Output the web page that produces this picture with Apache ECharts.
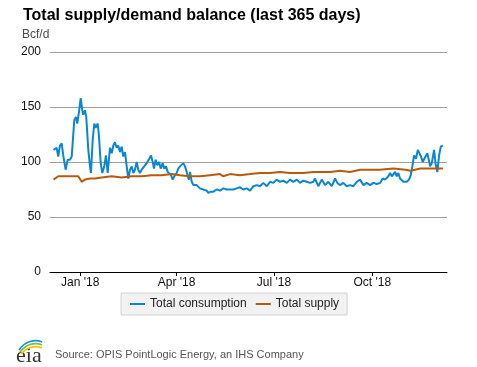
<!DOCTYPE html>
<html>
<head>
<meta charset="utf-8">
<script src="https://cdn.jsdelivr.net/npm/echarts@6/dist/echarts.min.js"></script>
<style>
html,body{margin:0;padding:0;background:#fff;}
#c{width:477px;height:367px;}
</style>
</head>
<body>
<div id="c"></div>
<script>
// Day offsets are days relative to 1 Jan 2018
var consDays = [-25,-22.1,-20.6,-19,-17.4,-15.9,-13.7,-11.8,-9.6,-8,-5.6,-4,-2.8,-1,0.4,1.9,2.8,4.4,5.6,7.5,9.1,10,11.6,13.1,14.4,16.3,17.5,19.1,20.6,22.4,24,25.6,27.8,29.4,30.9,32.4,34,35.5,37.1,38.7,40.2,41.8,43.4,44.9,46.5,48.1,49.6,51.1,52.7,54.2,55.8,57.4,58.9,62.1,64.5,66.1,67.7,68.9,70.5,72,73.6,75.2,77,78.5,80.1,81.7,83.2,84.8,86.4,87.9,90.1,91.6,93.2,94.8,96.3,97.9,99.5,100.4,101.6,102.6,104.2,105.7,108.8,111.9,115,118.2,119.7,121.9,124.4,127.5,130.6,133.7,136.9,140,143.1,146.2,149.3,152.4,155.6,158.7,161.8,164.9,168,171.1,174.3,177.4,180.5,183.6,186.7,189.8,193,196.1,199.2,202.3,205.4,208.5,211.7,214.8,217.9,219.4,222.5,225.7,228.8,231.9,235.1,238.2,240.3,242.8,245.9,249.1,252.2,255.3,258.5,261.5,264.7,267.8,270.9,274,277.2,280.3,282.7,284.9,288,289.6,291.2,292.7,294.3,295.8,297.3,298.9,302,305.2,307.3,308.9,310.4,312,313.8,315.5,317,318.5,320.1,321.6,323.2,324.4,325.8,327,328.6,330.7,332.3,333.8,335.4,337,338.9];
var consVals = [111,113,105,115,117,106,93,102,102,105,138,141,135,147,158,147,143,147,141,111,96,90,120,135,131,135,123,99,90,96,106,90,113,108,115,118,113,115,109,114,105,109,96,85,93,96,90,93,100,93,90,93,93,99,103,106,100,94,102,97,100,94,99,94,96,91,91,88,84,87,90,94,96,97,99,96,91,87,84,91,82,79,79,76,75,74,72,73,73,75,74,76,75,75,75,76,77,75,76,74,78,79,78,81,78,82,81,84,82,83,81,84,82,84,81,83,82,81,82,85,78,84,79,82,78,85,81,79,81,78,79,78,82,84,79,81,79,81,80,81,85,84,87,90,87,88,91,87,90,85,82,82,84,88,96,106,103,111,112,105,100,103,102,108,102,96,99,111,97,91,106,114,115];
var supDays = [-25,-20.6,-14.3,-8,-1.9,1.3,4.4,9.1,13.7,20,29.4,38.7,48.1,57.4,66.8,76.1,85.5,93.2,102.6,112,121.3,130.6,133.5,140,149.3,158.7,168,177.4,186.7,196,208,218,233.6,242.8,252,261.5,280,292.7,304,308.6,318,339];
var supVals = [84,87,87,87,87,82,84,85,85,86,87,86,87,87,88,88,89,88,87,87,88,89,87,89,88,89,90,90,91,90,90,91,91,92,91,93,93,94,93,92,94,94];
var yTicks = [0,50,100,150,200];
var monthNames = ['Jan','Feb','Mar','Apr','May','Jun','Jul','Aug','Sep','Oct','Nov','Dec'];
var xTickDates = [[2018,0,1],[2018,3,1],[2018,6,1],[2018,9,1]];
var seriesNames = ['Total consumption','Total supply'];

var DAY = 86400000;
var base = Date.UTC(2018,0,1);
function toTs(d){ return base + d*DAY; }
function pairs(days, vals){ return days.map(function(d,i){ return [toTs(d), vals[i]]; }); }
var xTicks = xTickDates.map(function(a){ return Date.UTC(a[0],a[1],a[2]); });

var chart = echarts.init(document.getElementById('c'), null, {renderer:'canvas'});
var font = 'Liberation Sans, Arial, sans-serif';
chart.setOption({
  animation:false,
  backgroundColor:'#fff',
  textStyle:{fontFamily:font},
  title:{text:'Total supply/demand balance (last 365 days)', left:18, top:3,
    textStyle:{fontSize:16, fontWeight:'bold', color:'#000', fontFamily:font}},
  grid:{left:50, right:30, top:52, bottom:95, containLabel:false},
  legend:{
    data:seriesNames, left:121, top:293, padding:[5,8,5,9], itemGap:9,
    backgroundColor:'#f2f2f2', borderColor:'#d2d2d2', borderWidth:1,
    icon:'rect', itemWidth:15, itemHeight:2,
    textStyle:{fontSize:12, color:'#222', fontFamily:font}
  },
  xAxis:{
    type:'value', min:toTs(-28.3), max:toTs(342.8),
    axisLine:{show:true, lineStyle:{color:'#000', width:1}},
    axisTick:{show:true, length:4, lineStyle:{color:'#000'}, customValues:xTicks},
    axisLabel:{show:true, margin:5, fontSize:12, color:'#111', customValues:xTicks,
      formatter:function(v){ var d=new Date(v); return monthNames[d.getUTCMonth()]+" '"+String(d.getUTCFullYear()).slice(2); }},
    splitLine:{show:false}
  },
  yAxis:{
    type:'value', min:0, max:200, interval:50,
    axisLine:{show:false}, axisTick:{show:false},
    axisLabel:{margin:9, fontSize:12, color:'#111'},
    splitLine:{show:true, lineStyle:{color:'#a0a0a0', width:1}}
  },
  series:[
    {name:seriesNames[0], type:'line', data:pairs(consDays,consVals), showSymbol:false, symbol:'none',
      lineStyle:{color:'#0b86d1', width:2}, itemStyle:{color:'#0b86d1'}, z:2},
    {name:seriesNames[1], type:'line', data:pairs(supDays,supVals), showSymbol:false, symbol:'none',
      lineStyle:{color:'#b65a0f', width:2}, itemStyle:{color:'#b65a0f'}, z:3}
  ],
  graphic:[
    {type:'text', left:22, top:29, style:{text:'Bcf/d', fontSize:12, fill:'#4a4a4a', fontFamily:font}},
    {type:'text', left:55, top:349, style:{text:'Source: OPIS PointLogic Energy, an IHS Company', fontSize:11, fill:'#555', fontFamily:font}},
    {type:'text', left:16, top:345, style:{text:'eia', fontSize:22, fill:'#333', fontFamily:'Liberation Serif, DejaVu Serif, serif'}},
    {type:'bezierCurve', shape:{x1:19,y1:350,x2:42,y2:342,cpx1:25,cpy1:341,cpx2:35,cpy2:339}, style:{stroke:'#1a8fd6', lineWidth:1.6, fill:'none'}},
    {type:'bezierCurve', shape:{x1:20,y1:352,x2:42,y2:345,cpx1:26,cpy1:344,cpx2:35,cpy2:342}, style:{stroke:'#7ac143', lineWidth:1.6, fill:'none'}},
    {type:'bezierCurve', shape:{x1:21,y1:354,x2:42,y2:348,cpx1:27,cpy1:347,cpx2:35,cpy2:345}, style:{stroke:'#f5c400', lineWidth:1.6, fill:'none'}}
  ]
});
</script>
</body>
</html>
